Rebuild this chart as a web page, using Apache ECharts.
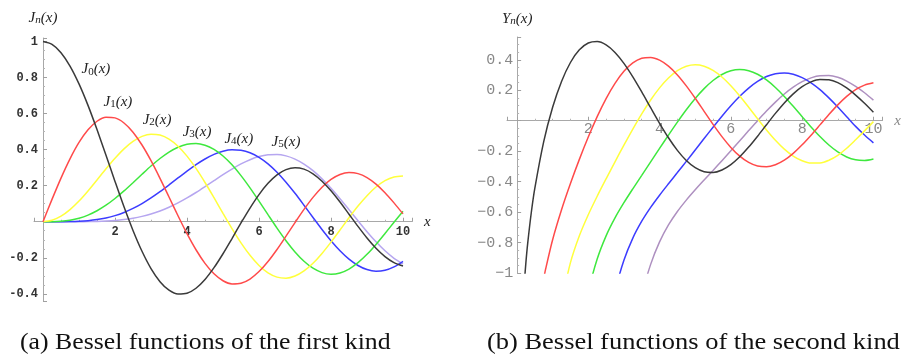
<!DOCTYPE html>
<html>
<head>
<meta charset="utf-8">
<script src="https://cdn.jsdelivr.net/npm/echarts@6/dist/echarts.min.js"></script>
<style>
  html, body { margin: 0; padding: 0; background: #fff; }
  #chart { width: 904px; height: 358px; }
</style>
</head>
<body>
<div id="chart"></div>
<script>
// First-kind functions J0..J5 sampled at x = 0, 0.25, ..., 10
const xGrid = [0, 0.25, 0.5, 0.75, 1, 1.25, 1.5, 1.75, 2, 2.25, 2.5, 2.75, 3, 3.25, 3.5, 3.75, 4, 4.25, 4.5, 4.75, 5,
  5.25, 5.5, 5.75, 6, 6.25, 6.5, 6.75, 7, 7.25, 7.5, 7.75, 8, 8.25, 8.5, 8.75, 9, 9.25, 9.5, 9.75, 10];
const J0 = [1, 0.9844, 0.9385, 0.8642, 0.7652, 0.6459, 0.5118, 0.3690, 0.2239, 0.0828, -0.0484, -0.1641, -0.2601, -0.3327, -0.3801, -0.4014, -0.3971, -0.3692, -0.3205, -0.2551, -0.1776,
  -0.0931, -0.0068, 0.0760, 0.1506, 0.2131, 0.2601, 0.2894, 0.3001, 0.2920, 0.2663, 0.2252, 0.1717, 0.1092, 0.0419, -0.0259, -0.0903, -0.1474, -0.1939, -0.2273, -0.2459];
const J1 = [0, 0.1240, 0.2423, 0.3492, 0.4401, 0.5106, 0.5579, 0.5801, 0.5767, 0.5483, 0.4971, 0.4259, 0.3391, 0.2411, 0.1374, 0.0333, -0.0660, -0.1555, -0.2311, -0.2891, -0.3276,
  -0.3450, -0.3414, -0.3179, -0.2767, -0.2207, -0.1538, -0.0803, -0.0047, 0.0686, 0.1352, 0.1916, 0.2346, 0.2622, 0.2731, 0.2672, 0.2453, 0.2091, 0.1613, 0.1048, 0.0435];
const J2 = [0, 0.0078, 0.0306, 0.0671, 0.1149, 0.1711, 0.2321, 0.2940, 0.3528, 0.4047, 0.4461, 0.4739, 0.4861, 0.4811, 0.4586, 0.4191, 0.3641, 0.2960, 0.2179, 0.1334, 0.0466,
  -0.0383, -0.1173, -0.1865, -0.2429, -0.2837, -0.3074, -0.3132, -0.3014, -0.2731, -0.2303, -0.1758, -0.1130, -0.0457, 0.0223, 0.0870, 0.1448, 0.1926, 0.2279, 0.2488, 0.2546];
const J3 = [0, 0.0003, 0.0026, 0.0085, 0.0196, 0.0369, 0.0610, 0.0918, 0.1289, 0.1711, 0.2166, 0.2633, 0.3091, 0.3510, 0.3868, 0.4138, 0.4302, 0.4341, 0.4247, 0.4014, 0.3648,
  0.3158, 0.2561, 0.1882, 0.1148, 0.0392, -0.0354, -0.1053, -0.1676, -0.2192, -0.2581, -0.2823, -0.2911, -0.2843, -0.2626, -0.2274, -0.1809, -0.1258, -0.0653, -0.0028, 0.0584];
const J4 = [0, 0.0000, 0.0002, 0.0008, 0.0025, 0.0059, 0.0118, 0.0209, 0.0340, 0.0515, 0.0738, 0.1006, 0.1320, 0.1669, 0.2044, 0.2430, 0.2811, 0.3169, 0.3484, 0.3737, 0.3912,
  0.3992, 0.3967, 0.3829, 0.3576, 0.3213, 0.2748, 0.2196, 0.1578, 0.0916, 0.0238, -0.0428, -0.1054, -0.1611, -0.2077, -0.2429, -0.2655, -0.2742, -0.2691, -0.2505, -0.2196];
const J5 = [0, 0.0000, 0.0000, 0.0001, 0.0002, 0.0007, 0.0018, 0.0038, 0.0070, 0.0121, 0.0195, 0.0297, 0.0430, 0.0598, 0.0804, 0.1045, 0.1321, 0.1623, 0.1947, 0.2280, 0.2611,
  0.2926, 0.3209, 0.3445, 0.3621, 0.3721, 0.3736, 0.3656, 0.3479, 0.3203, 0.2835, 0.2381, 0.1858, 0.1281, 0.0671, 0.0053, -0.0550, -0.1113, -0.1613, -0.2028, -0.2341];

// Second-kind functions Y0..Y5 as [x, y]; each list starts just below -1 because Yn diverges at 0
const Y0 = [[0.2, -1.0811], [0.25, -0.9316], [0.3, -0.8073], [0.4, -0.6060], [0.5, -0.4445], [0.75, -0.1372], [1, 0.0883], [1.25, 0.2582], [1.5, 0.3825], [1.75, 0.4655],
  [2, 0.5104], [2.25, 0.5200], [2.5, 0.4981], [2.75, 0.4486], [3, 0.3769], [3.25, 0.2884], [3.5, 0.1892], [3.75, 0.0854], [4, -0.0169], [4.25, -0.1119], [4.5, -0.1947],
  [4.75, -0.2612], [5, -0.3085], [5.25, -0.3347], [5.5, -0.3395], [5.75, -0.3233], [6, -0.2882], [6.25, -0.2369], [6.5, -0.1732], [6.75, -0.1014], [7, -0.0259],
  [7.25, 0.0484], [7.5, 0.1173], [7.75, 0.1767], [8, 0.2235], [8.25, 0.2553], [8.5, 0.2708], [8.75, 0.2686], [9, 0.2499], [9.25, 0.2152], [9.5, 0.1680], [9.75, 0.1146], [10, 0.0557]];
const Y1 = [[0.7, -1.1032], [0.75, -1.0377], [0.8, -0.9781], [1, -0.7812], [1.25, -0.5843], [1.5, -0.4123], [1.75, -0.2538], [2, -0.1070], [2.25, 0.0272], [2.5, 0.1459],
  [2.75, 0.2460], [3, 0.3247], [3.25, 0.3797], [3.5, 0.4102], [3.75, 0.4158], [4, 0.3979], [4.25, 0.3585], [4.5, 0.3010], [4.75, 0.2292], [5, 0.1479], [5.25, 0.0619],
  [5.5, -0.0238], [5.75, -0.1041], [6, -0.1750], [6.25, -0.2324], [6.5, -0.2739], [6.75, -0.2976], [7, -0.3027], [7.25, -0.2893], [7.5, -0.2591], [7.75, -0.2143],
  [8, -0.1581], [8.25, -0.0946], [8.5, -0.0272], [8.75, 0.0408], [9, 0.1043], [9.25, 0.1599], [9.5, 0.2041], [9.75, 0.2338], [10, 0.2490]];
const Y2 = [[1.25, -1.1931], [1.5, -0.9322], [1.75, -0.7556], [2, -0.6174], [2.25, -0.4958], [2.5, -0.3813], [2.75, -0.2697], [3, -0.1604], [3.25, -0.0547], [3.5, 0.0452],
  [3.75, 0.1364], [4, 0.2159], [4.25, 0.2806], [4.5, 0.3285], [4.75, 0.3577], [5, 0.3677], [5.25, 0.3583], [5.5, 0.3308], [5.75, 0.2871], [6, 0.2299], [6.25, 0.1625],
  [6.5, 0.0890], [6.75, 0.0132], [7, -0.0605], [7.25, -0.1282], [7.5, -0.1864], [7.75, -0.2320], [8, -0.2630], [8.25, -0.2783], [8.5, -0.2772], [8.75, -0.2593],
  [9, -0.2268], [9.25, -0.1806], [9.5, -0.1250], [9.75, -0.0667], [10, -0.0059]];
const Y3 = [[1.75, -1.4732], [2, -1.1278], [2.25, -0.9087], [2.5, -0.7561], [2.75, -0.6383], [3, -0.5385], [3.25, -0.4470], [3.5, -0.3586], [3.75, -0.2703], [4, -0.1820],
  [4.25, -0.0944], [4.5, -0.0090], [4.75, 0.0720], [5, 0.1463], [5.25, 0.2111], [5.5, 0.2644], [5.75, 0.3038], [6, 0.3282], [6.25, 0.3365], [6.5, 0.3286], [6.75, 0.3054],
  [7, 0.2681], [7.25, 0.2186], [7.5, 0.1597], [7.75, 0.0946], [8, 0.0265], [8.25, -0.0404], [8.5, -0.1033], [8.75, -0.1593], [9, -0.2051], [9.25, -0.2380], [9.5, -0.2567],
  [9.75, -0.2611], [10, -0.2514]];
const Y4 = [[2.25, -1.9274], [2.5, -1.4332], [2.75, -1.1230], [3, -0.9167], [3.25, -0.7706], [3.5, -0.6598], [3.75, -0.5689], [4, -0.4889], [4.25, -0.4139], [4.5, -0.3405],
  [4.75, -0.2667], [5, -0.1921], [5.25, -0.1170], [5.5, -0.0425], [5.75, 0.0300], [6, 0.0984], [6.25, 0.1605], [6.5, 0.2144], [6.75, 0.2582], [7, 0.2903], [7.25, 0.3091],
  [7.5, 0.3142], [7.75, 0.3052], [8, 0.2829], [8.25, 0.2489], [8.5, 0.2043], [8.75, 0.1500], [9, 0.0900], [9.25, 0.0262], [9.5, -0.0371], [9.75, -0.0940], [10, -0.1450]];
const Y5 = [[3.25, -1.4498], [3.5, -1.1497], [3.75, -0.9434], [4, -0.7959], [4.25, -0.6847], [4.5, -0.5963], [4.75, -0.5213], [5, -0.4537], [5.25, -0.3894], [5.5, -0.3261],
  [5.75, -0.2621], [6, -0.1971], [6.25, -0.1310], [6.5, -0.0648], [6.75, 0.0007], [7, 0.0637], [7.25, 0.1225], [7.5, 0.1754], [7.75, 0.2205], [8, 0.2564], [8.25, 0.2817],
  [8.5, 0.2956], [8.75, 0.2965], [9, 0.2851], [9.25, 0.2607], [9.5, 0.2254], [9.75, 0.1840], [10, 0.1354]];

const orders = ['0', '1', '2', '3', '4', '5'];
const firstKind = [J0, J1, J2, J3, J4, J5];
const secondKind = [Y0, Y1, Y2, Y3, Y4, Y5];
const captions = ['(a) Bessel functions of the first kind', '(b) Bessel functions of the second kind'];

const colorsFirst = ['#3a3a3a', '#ff4a4a', '#ffff3c', '#3ee83e', '#3c3cff', '#b6a6f0'];
const colorsSecond = ['#3a3a3a', '#ff4a4a', '#ffff3c', '#3ee83e', '#3c3cff', '#ae90c0'];
// where each J_n(x) tag sits, in data coordinates
const tagSpots = [[1.47, 0.845], [2.08, 0.665], [3.17, 0.565], [4.28, 0.5], [5.44, 0.46], [6.75, 0.443]];

// plot frames and value ranges of the two panels
const leftGrid = { left: 34, top: 38, width: 378, height: 263 };
const rightGrid = { left: 507, top: 37, width: 381, height: 236 };
const leftX = [-0.25, 10.25], leftY = [-0.44, 1.02];
const rightX = [-0.28, 10.25], rightY = [-1, 0.55];

// shift the axes so they cross at the origin, labels included
const leftXShift = -leftGrid.height * (0 - leftY[0]) / (leftY[1] - leftY[0]);
const leftYShift = -leftGrid.width * (0 - leftX[0]) / (leftX[1] - leftX[0]);
const rightXShift = -rightGrid.height * (0 - rightY[0]) / (rightY[1] - rightY[0]);
const rightYShift = -rightGrid.width * (0 - rightX[0]) / (rightX[1] - rightX[0]);

const serif = 'Liberation Serif';
const mathRich = {
  i: { fontFamily: serif, fontStyle: 'italic', fontSize: 15, lineHeight: 16, color: '#222' },
  s: { fontFamily: serif, fontStyle: 'normal', fontSize: 11, lineHeight: 8, verticalAlign: 'bottom', color: '#222' },
  si: { fontFamily: serif, fontStyle: 'italic', fontSize: 11, lineHeight: 8, verticalAlign: 'bottom', color: '#222' }
};

function isMajor(v) {
  const k = Math.round(v * 5);
  return Math.abs(v - k / 5) < 1e-6 && k !== 0;
}
function leftYLabel(v) {
  return isMajor(v) ? String(Math.round(v * 10) / 10) : '';
}
function rightYLabel(v) {
  return isMajor(v) ? String(Math.round(v * 10) / 10).replace('-', '\u2212') : '';
}
function evenX(v) {
  const k = Math.round(v);
  if (Math.abs(v - k) > 1e-6 || k === 0 || k % 2 !== 0) return '';
  return String(k);
}

const lineGrey = { show: true, onZero: false, lineStyle: { color: '#a8a8a8', width: 1 } };
const tickGrey = { show: true, inside: true, length: 4, lineStyle: { color: '#a0a0a0' } };
const minorGrey = { show: true, splitNumber: 4, length: 2, lineStyle: { color: '#b4b4b4' } };
const leftLabel = { margin: 5, fontFamily: 'Liberation Mono', fontWeight: 'bold', fontSize: 12, color: '#333' };
const rightLabel = { margin: 4, fontFamily: 'Liberation Mono', fontSize: 15, color: '#888' };

const option = {
  animation: false,
  backgroundColor: '#ffffff',
  grid: [leftGrid, rightGrid],
  xAxis: [
    {
      gridIndex: 0, type: 'value', min: leftX[0], max: leftX[1], offset: leftXShift,
      axisLine: lineGrey, axisTick: tickGrey, minorTick: minorGrey, splitLine: { show: false },
      axisLabel: Object.assign({ formatter: evenX }, leftLabel, { margin: 4 }),
      name: 'x', nameLocation: 'end', nameGap: 12,
      nameTextStyle: { fontFamily: serif, fontStyle: 'italic', fontSize: 15, color: '#222' }
    },
    {
      gridIndex: 1, type: 'value', min: rightX[0], max: rightX[1], offset: rightXShift,
      axisLine: lineGrey, axisTick: tickGrey, minorTick: minorGrey, splitLine: { show: false },
      axisLabel: Object.assign({ formatter: evenX }, rightLabel, { margin: 1 }),
      name: 'x', nameLocation: 'end', nameGap: 12,
      nameTextStyle: { fontFamily: serif, fontStyle: 'italic', fontSize: 15, color: '#888' }
    }
  ],
  yAxis: [
    {
      gridIndex: 0, type: 'value', min: leftY[0], max: leftY[1], splitNumber: 7, offset: leftYShift,
      axisLine: lineGrey, axisTick: tickGrey, minorTick: minorGrey, splitLine: { show: false },
      axisLabel: Object.assign({ formatter: leftYLabel }, leftLabel),
      name: '{i|J}{si|n}{i|(x)}', nameLocation: 'end', nameGap: 12,
      nameTextStyle: { rich: mathRich }
    },
    {
      gridIndex: 1, type: 'value', min: rightY[0], max: rightY[1], splitNumber: 7, offset: rightYShift,
      axisLine: lineGrey, axisTick: tickGrey, minorTick: minorGrey, splitLine: { show: false },
      axisLabel: Object.assign({ formatter: rightYLabel }, rightLabel),
      name: '{i|Y}{si|n}{i|(x)}', nameLocation: 'end', nameGap: 10,
      nameTextStyle: { rich: mathRich }
    }
  ],
  graphic: [
    { type: 'text', x: 20, y: 331, scaleX: 1.12, style: { text: captions[0], font: '23px "Liberation Serif"', fill: '#111' } },
    { type: 'text', x: 487, y: 331, scaleX: 1.15, style: { text: captions[1], font: '23px "Liberation Serif"', fill: '#111' } }
  ],
  series: []
};

firstKind.forEach((vals, n) => {
  option.series.push({
    type: 'line', xAxisIndex: 0, yAxisIndex: 0,
    data: xGrid.map((x, i) => [x, vals[i]]),
    smooth: 0.3, showSymbol: false, clip: false, z: 10 - n,
    lineStyle: { color: colorsFirst[n], width: 1.5 },
    markPoint: {
      symbol: 'circle', symbolSize: 0, silent: true,
      label: {
        show: true, position: 'inside',
        formatter: '{i|J}{s|' + orders[n] + '}{i|(x)}',
        rich: mathRich
      },
      data: [{ coord: tagSpots[n] }]
    }
  });
});

secondKind.forEach((pts, n) => {
  option.series.push({
    type: 'line', xAxisIndex: 1, yAxisIndex: 1,
    data: pts,
    smooth: 0.3, showSymbol: false, clip: true, z: 10 - n,
    lineStyle: { color: colorsSecond[n], width: 1.5 }
  });
});

const chart = echarts.init(document.getElementById('chart'), null, { renderer: 'canvas' });
chart.setOption(option);
</script>
</body>
</html>
